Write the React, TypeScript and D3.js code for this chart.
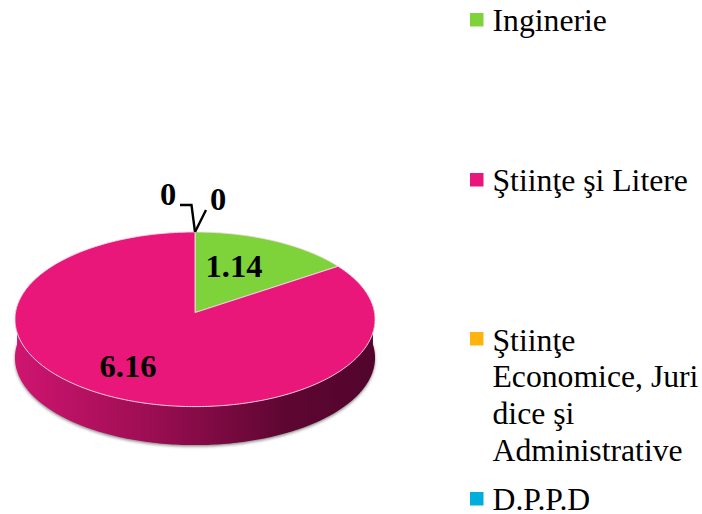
import React from "react";
import * as d3 from "d3";

const categories = ["Inginerie", "Ştiinţe şi Litere", "Ştiinţe Economice, Juridice şi Administrative", "D.P.P.D"];
const values = [1.14, 6.16, 0, 0];
const colors = ["#7ed23a", "#e9177a", "#ffb30f", "#00aedb"];
const legendLines = [["Inginerie"], ["Ştiinţe şi Litere"], ["Ştiinţe", "Economice, Juri", "dice şi", "Administrative"], ["D.P.P.D"]];

// layout
const CX = 195, CY = 312.6, B = 179.5, A = 86.8, P = 0.0767, DEPTH = 38.5;
const project = (t: number, r = 1): [number, number] => {
  const den = 1 + P * r * Math.cos(t);
  return [CX + (B * r * Math.sin(t)) / den, CY - (A * r * Math.cos(t)) / den];
};
const line = d3.line();
const arcPoints = (a0: number, a1: number) => {
  const n = Math.max(2, Math.ceil(Math.abs(a1 - a0) * 60));
  return d3.range(n + 1).map((i) => project(a0 + ((a1 - a0) * i) / n));
};
const pie = d3.pie<number>().sort(null).value((d) => d);
const arcs = pie(values);
const legendY = [13, 173, 332, 492];
const legendBase = [31, 190.5, 350.5, 510];
const labelPos: [number, number][] = [[205.5, 276.5], [99.5, 377]];
const zeroLabels: { x: number; y: number; pts: [number, number][] }[] = [
  { x: 160, y: 205, pts: [[180, 205], [191.5, 205], [195, 232]] },
  { x: 210, y: 210, pts: [[206, 210], [195, 232]] },
];

export default function App() {
  const frontStart = Math.PI / 2 - P;
  const frontEnd = (3 * Math.PI) / 2 + P;
  const front = arcPoints(frontStart, frontEnd);
  const sidePts = [...front, ...front.slice().reverse().map(([x, y]) => [x, y + DEPTH] as [number, number])];
  const ellipse = arcPoints(0, 2 * Math.PI);
  const shadowPts = ellipse.map(([x, y]) => [x, y + DEPTH + 1.5] as [number, number]);
  return (
    <svg width={702} height={514} style={{ position: "absolute", left: 0, top: 0, background: "#fff" }}>
      <defs>
        <linearGradient id="side" x1="0" x2="1" y1="0" y2="0">
          <stop offset="0" stopColor="#cf1570" />
          <stop offset="0.35" stopColor="#a00e55" />
          <stop offset="0.75" stopColor="#5e0632" />
          <stop offset="1" stopColor="#52052c" />
        </linearGradient>
        <filter id="blur" x="-10%" y="-10%" width="120%" height="120%">
          <feGaussianBlur stdDeviation="1.5" />
        </filter>
      </defs>
      <path d={line(shadowPts)! + "Z"} fill="#8a8a8a" filter="url(#blur)" />
      <path d={line(sidePts)! + "Z"} fill="url(#side)" />
      {arcs.filter((a) => a.value > 0).map((a) => {
        const pts = [project(0, 0), ...arcPoints(a.startAngle, a.endAngle)];
        return <path key={a.index} d={line(pts)! + "Z"} fill={colors[a.index]} stroke="#f3dbe6" strokeWidth={0.9} strokeLinejoin="round" />;
      })}
      {arcs.filter((a) => a.value > 0).map((a) => (
        <text key={a.index} x={labelPos[a.index][0]} y={labelPos[a.index][1]} fontFamily="'Liberation Serif'" fontWeight="bold" fontSize={32.5} fill="#000">
          {d3.format(".2f")(a.value)}
        </text>
      ))}
      {zeroLabels.map((z, i) => (
        <g key={i}>
          <path d={line(z.pts)!} fill="none" stroke="#000" strokeWidth={2.4} />
          <text x={z.x} y={z.y} fontFamily="'Liberation Serif'" fontWeight="bold" fontSize={32.5} fill="#000">
            {values[i + 2]}
          </text>
        </g>
      ))}
      {categories.map((c, i) => (
        <g key={c}>
          <rect x={470} y={legendY[i]} width={13.5} height={13.5} fill={colors[i]} />
          <text fontFamily="'Liberation Serif'" fontSize={31.7} fill="#000">
            {legendLines[i].map((l, j) => (
              <tspan key={j} x={492.5} y={legendBase[i] + j * 36.8}>{l}</tspan>
            ))}
          </text>
        </g>
      ))}
    </svg>
  );
}
